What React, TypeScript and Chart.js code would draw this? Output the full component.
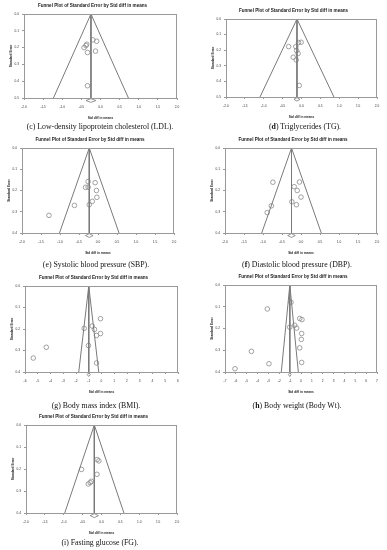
import React, { useEffect, useRef } from "react";
import { Chart, registerables } from "chart.js";
Chart.register(...registerables);

// ---------- DATA ----------
const chartTitle = "Funnel Plot of Standard Error by Std diff in means";
const xAxisTitle = "Std diff in means";
const yAxisTitle = "Standard Error";

// (c) LDL
const ldlStdDiff = [-0.2, -0.1, -0.36, -0.38, -0.43, -0.34, -0.13, -0.34];
const ldlStdErr = [0.154, 0.162, 0.18, 0.188, 0.2, 0.229, 0.221, 0.427];
const ldlSummary = [-0.38, -0.25, -0.12]; // lower, estimate, upper

// (d) TG
const tgStdDiff = [-0.01, -0.08, -0.34, -0.15, -0.13, -0.09, -0.22, -0.14, -0.06];
const tgStdErr = [0.149, 0.151, 0.177, 0.177, 0.202, 0.221, 0.245, 0.262, 0.426];
const tgSummary = [-0.2, -0.12, -0.04];

// (e) SBP
const sbpStdDiff = [-0.26, -0.075, -0.26, -0.33, -0.04, -0.03, -0.15, -0.23, -0.62, -1.29];
const sbpStdErr = [0.158, 0.163, 0.184, 0.185, 0.2, 0.232, 0.251, 0.267, 0.27, 0.317];
const sbpSummary = [-0.33, -0.23, -0.13];

// (f) DBP
const dbpStdDiff = [-0.74, -0.04, -0.18, -0.1, 0.0, -0.24, -0.12, -0.78, -0.89];
const dbpStdErr = [0.161, 0.16, 0.182, 0.2, 0.231, 0.253, 0.267, 0.272, 0.304];
const dbpSummary = [-0.35, -0.25, -0.15];

// (g) BMI
const bmiStdDiff = [-0.08, -0.73, -1.36, -0.55, -0.39, -0.08, -1.02, -4.33, -5.35, -0.39];
const bmiStdErr = [0.152, 0.186, 0.197, 0.202, 0.23, 0.221, 0.277, 0.285, 0.335, 0.358];
const bmiSummary = [-1.12, -1.0, -0.88];

// (h) Body weight
const bwStdDiff = [-0.92, -3.1, -0.12, 0.09, -1.04, -0.58, -0.4, 0.06, 0.03, -0.12, -4.57, 0.06, -2.95, -6.08];
const bwStdErr = [0.079, 0.11, 0.154, 0.159, 0.194, 0.185, 0.198, 0.223, 0.25, 0.289, 0.305, 0.356, 0.362, 0.385];
const bwSummary = [-1.15, -1.03, -0.91];

// (i) FG
const fgStdDiff = [-0.115, -0.07, -0.53, -0.12, -0.27, -0.35, -0.3];
const fgStdErr = [0.157, 0.163, 0.202, 0.224, 0.256, 0.268, 0.262];
const fgSummary = [-0.3, -0.19, -0.08];

// axis ranges
const xRangeNarrow = [-2, 2, 0.5];
const xRangeBmi = [-6, 6, 1];
const xRangeBw = [-7, 7, 1];
const yMaxLipid = 0.5;
const yMaxOther = 0.4;

// captions
const captionLetters = ["c", "d", "e", "f", "g", "h", "i"];
const captionTexts = [
  "Low-density lipoprotein cholesterol (LDL).",
  "Triglycerides (TG).",
  "Systolic blood pressure (SBP).",
  "Diastolic blood pressure (DBP).",
  "Body mass index (BMI).",
  "Body weight (Body Wt).",
  "Fasting glucose (FG).",
];

type Panel = {
  xs: number[];
  ys: number[];
  summary: number[];
  xRange: number[];
  yMax: number;
  decimals: number;
  panelX: number;
  plotL: number;
  plotR: number;
  plotT: number;
  plotB: number;
  capX: number;
  capY: number;
  boldLetter: boolean;
  letter: string;
  caption: string;
};

const panels: Panel[] = [
  { xs: ldlStdDiff, ys: ldlStdErr, summary: ldlSummary, xRange: xRangeNarrow, yMax: yMaxLipid, decimals: 1, panelX: 0, plotL: 24, plotR: 177, plotT: 14, plotB: 98, capX: 100, capY: 127, boldLetter: false, letter: captionLetters[0], caption: captionTexts[0] },
  { xs: tgStdDiff, ys: tgStdErr, summary: tgSummary, xRange: xRangeNarrow, yMax: yMaxLipid, decimals: 1, panelX: 194, plotL: 226, plotR: 377, plotT: 19, plotB: 97, capX: 305, capY: 127, boldLetter: true, letter: captionLetters[1], caption: captionTexts[1] },
  { xs: sbpStdDiff, ys: sbpStdErr, summary: sbpSummary, xRange: xRangeNarrow, yMax: yMaxOther, decimals: 1, panelX: 0, plotL: 22, plotR: 174, plotT: 148, plotB: 233, capX: 96, capY: 265, boldLetter: false, letter: captionLetters[2], caption: captionTexts[2] },
  { xs: dbpStdDiff, ys: dbpStdErr, summary: dbpSummary, xRange: xRangeNarrow, yMax: yMaxOther, decimals: 1, panelX: 194, plotL: 225, plotR: 377, plotT: 148, plotB: 233, capX: 297, capY: 265, boldLetter: true, letter: captionLetters[3], caption: captionTexts[3] },
  { xs: bmiStdDiff, ys: bmiStdErr, summary: bmiSummary, xRange: xRangeBmi, yMax: yMaxOther, decimals: 0, panelX: 0, plotL: 25, plotR: 178, plotT: 286, plotB: 372, capX: 96, capY: 406, boldLetter: false, letter: captionLetters[4], caption: captionTexts[4] },
  { xs: bwStdDiff, ys: bwStdErr, summary: bwSummary, xRange: xRangeBw, yMax: yMaxOther, decimals: 0, panelX: 194, plotL: 225, plotR: 377, plotT: 285, plotB: 372, capX: 297, capY: 406, boldLetter: true, letter: captionLetters[5], caption: captionTexts[5] },
  { xs: fgStdDiff, ys: fgStdErr, summary: fgSummary, xRange: xRangeNarrow, yMax: yMaxOther, decimals: 1, panelX: 0, plotL: 26, plotR: 177, plotT: 425, plotB: 513, capX: 100, capY: 543, boldLetter: false, letter: captionLetters[6], caption: captionTexts[6] },
];

const SANS = "'Liberation Sans', Arial, sans-serif";
const LINE = "#7a7a7a";
const FRAME = "#9a9a9a";
const TEXT = "#333";

const boxPlugin = {
  id: "frameBox",
  afterDatasetsDraw(chart: any) {
    const { ctx, chartArea: a } = chart;
    ctx.save();
    ctx.strokeStyle = FRAME;
    ctx.lineWidth = 1;
    ctx.strokeRect(Math.round(a.left) + 0.5, Math.round(a.top) + 0.5, Math.round(a.right - a.left) - 1, Math.round(a.bottom - a.top));
    ctx.restore();
  },
};

const CANVAS_W = 193;
const Y_W = 16;
const X_H = 24;

function FunnelPanel({ p }: { p: Panel }) {
  const ref = useRef<HTMLCanvasElement>(null);
  const top = p.plotT - 12;
  const h = p.plotB - p.plotT + 36;
  useEffect(() => {
    const c = p.summary[1];
    const ym = p.yMax;
    const funnel = [
      { x: c - 1.96 * ym, y: ym },
      { x: c, y: 0 },
      { x: c + 1.96 * ym, y: ym },
    ];
    const vline = [
      { x: c, y: 0 },
      { x: c, y: ym },
    ];
    const dy = ym * 1.03;
    const dh = ym * 0.022;
    const diamond = [
      { x: p.summary[0], y: dy },
      { x: c, y: dy - dh },
      { x: p.summary[2], y: dy },
      { x: c, y: dy + dh },
      { x: p.summary[0], y: dy },
    ];
    const studies = p.xs.map((x, i) => ({ x, y: p.ys[i] }));
    const padL = p.plotL - p.panelX - Y_W;
    const padR = p.panelX + CANVAS_W - p.plotR;
    const tickFont = { family: SANS, size: 3.2 };
    const chart = new Chart(ref.current as HTMLCanvasElement, {
      type: "scatter",
      data: {
        datasets: [
          { type: "line", data: funnel, borderColor: LINE, borderWidth: 1, pointRadius: 0, fill: false, tension: 0 } as any,
          { type: "line", data: vline, borderColor: LINE, borderWidth: 1, pointRadius: 0, fill: false } as any,
          { type: "scatter", data: studies, pointStyle: "circle", pointRadius: 2.3, borderColor: "#8a8a8a", backgroundColor: "rgba(255,255,255,0)", borderWidth: 0.8 } as any,
          { type: "line", data: diamond, borderColor: LINE, borderWidth: 0.8, pointRadius: 0, fill: false, clip: false } as any,
        ],
      },
      options: {
        responsive: false,
        animation: false,
        devicePixelRatio: 1,
        events: [],
        layout: { padding: { left: padL, right: padR, top: 0, bottom: 0 }, autoPadding: false } as any,
        plugins: {
          legend: { display: false },
          tooltip: { enabled: false },
          title: {
            display: true,
            text: chartTitle,
            color: "#222",
            font: { family: SANS, size: 4.6, weight: "bold", lineHeight: 1.2 },
            padding: { top: 1.2, bottom: 5.3 },
          },
        },
        scales: {
          x: {
            type: "linear",
            min: p.xRange[0],
            max: p.xRange[1],
            afterFit: (s: any) => {
              s.height = X_H;
            },
            ticks: {
              stepSize: p.xRange[2],
              autoSkip: false,
              maxRotation: 0,
              padding: 5.5,
              color: TEXT,
              font: tickFont,
              callback: (v: any) => Number(v).toFixed(p.decimals),
            },
            grid: { display: true, drawOnChartArea: false, tickLength: 2, color: FRAME },
            border: { display: false },
            title: { display: true, text: xAxisTitle, color: "#222", font: { family: SANS, size: 3.2, weight: "bold", lineHeight: 1.2 }, padding: { top: 0, bottom: 2 } },
          },
          y: {
            type: "linear",
            reverse: true,
            min: 0,
            max: p.yMax,
            afterFit: (s: any) => {
              s.width = Y_W;
            },
            ticks: {
              stepSize: 0.1,
              autoSkip: false,
              padding: 3,
              color: TEXT,
              font: tickFont,
              callback: (v: any) => Number(v).toFixed(1),
            },
            grid: { display: true, drawOnChartArea: false, tickLength: 2, color: FRAME },
            border: { display: false },
            title: { display: true, text: yAxisTitle, color: "#222", font: { family: SANS, size: 3.2, weight: "bold", lineHeight: 1.2 }, padding: { top: 1.2, bottom: 0 } },
          },
        },
      },
      plugins: [boxPlugin],
    } as any);
    return () => chart.destroy();
  }, []);
  return (
    <>
      <canvas
        ref={ref}
        width={CANVAS_W}
        height={h}
        style={{ position: "absolute", left: p.panelX, top, width: CANVAS_W, height: h }}
      />
      <div
        style={{
          position: "absolute",
          left: p.capX - 100,
          top: p.capY - 6,
          width: 200,
          height: 12,
          lineHeight: "12px",
          textAlign: "center",
          whiteSpace: "nowrap",
          fontFamily: "'Liberation Serif', 'Times New Roman', serif",
          fontSize: "7.8px",
          color: "#111",
          willChange: "transform",
        }}
      >
        ({p.boldLetter ? <b>{p.letter}</b> : p.letter}) {p.caption}
      </div>
    </>
  );
}

export default function App() {
  return (
    <div style={{ position: "absolute", left: 0, top: 0, width: 387, height: 550, background: "#fff", overflow: "hidden" }}>
      {panels.map((p, i) => (
        <FunnelPanel key={i} p={p} />
      ))}
    </div>
  );
}
